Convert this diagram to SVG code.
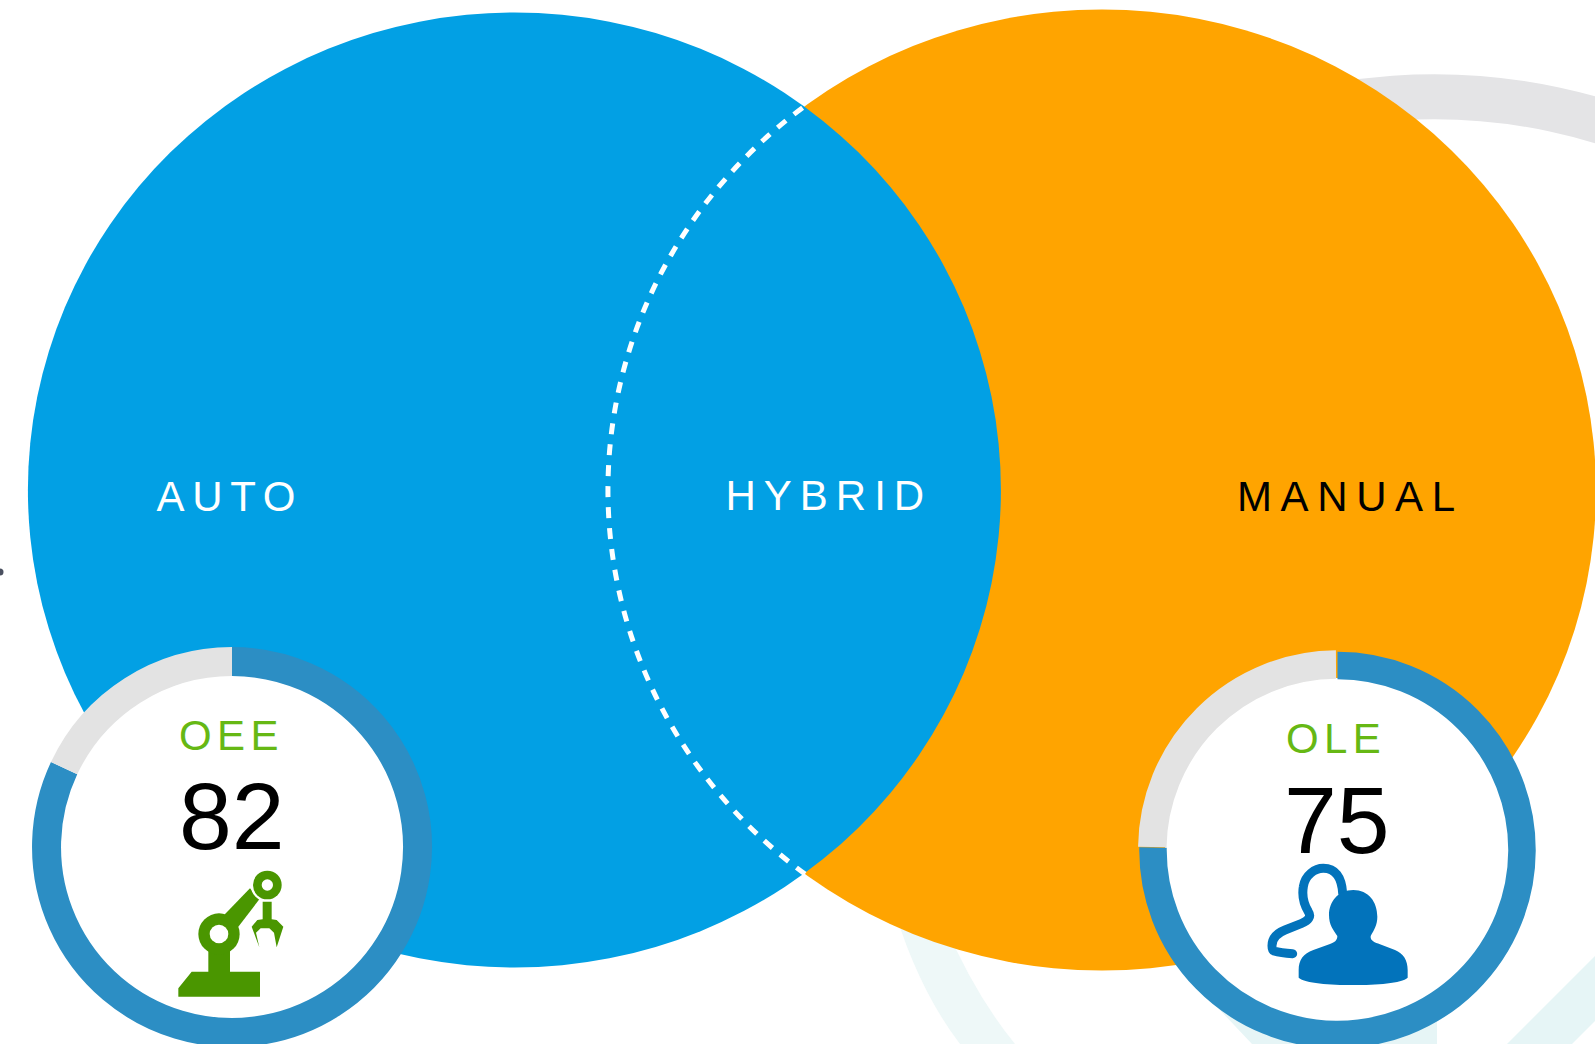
<svg xmlns="http://www.w3.org/2000/svg" width="1595" height="1044" viewBox="0 0 1595 1044">
<style>
text{font-family:"Liberation Sans",Arial,sans-serif}
.lab{font-size:42px}
.kpi{font-size:42px;fill:#66B814}
.num{font-size:95px;fill:#000}
.ringb{fill:none;stroke:#2C8EC4;stroke-width:29}
.ringg{fill:none;stroke:#E3E3E3;stroke-width:29}
.teal{fill:#E6F5F6}
</style>
<rect width="1595" height="1044" fill="#fff"/>
<g id="background">
<circle cx="0" cy="572" r="3.500" fill="#4A5060"/>
<path d="M1100 204A574 574 0 0 1 1700 162" fill="none" stroke="#E4E4E6" stroke-width="45"/>
<path d="M890 895Q915 985 960 1044H1015Q975 995 945 925Z" fill="#EEF8F8"/>
<path class="teal" d="M1218 1008L1252 1044H1437V1000H1240Z"/>
<path class="teal" d="M1507 1044L1595 956V1021L1572 1044Z"/>
</g>
<g id="manual">
<ellipse cx="1102" cy="490" rx="494" ry="480.500" fill="#FFA400"/>
<text class="lab" x="1237" y="511" style="letter-spacing:8.600px" fill="#000">MANUAL</text>
</g>
<g id="auto">
<ellipse cx="514.400" cy="490" rx="486.500" ry="477.500" fill="#02A0E4"/>
<text class="lab" x="156.500" y="511" style="letter-spacing:7.700px" fill="#fff">AUTO</text>
</g>
<g id="hybrid">
<path d="M805 106A494 480.500 0 0 0 805 874" fill="none" stroke="#fff" stroke-width="5" stroke-dasharray="11 10" stroke-dashoffset="-3"/>
<text class="lab" x="725.500" y="510" style="letter-spacing:8px" fill="#fff">HYBRID</text>
</g>
<g id="oee">
<circle cx="232" cy="847" r="172" fill="#fff"/>
<path class="ringb" d="M232 661.500A185.500 185.500 0 1 1 64.100 768.200"/>
<path class="ringg" d="M232 661.500A185.500 185.500 0 0 0 64.100 768.200"/>
<text class="kpi" x="179" y="750" style="letter-spacing:5.400px">OEE</text>
<text class="num" x="179" y="849">82</text>
<g transform="translate(170 860) scale(.33333)" fill="#4A9600">
<path d="M25 385L65 335H115V260H180V335H270V410H25Z"/>
<circle cx="147" cy="222" r="62"/>
<path d="M150 178L240 85L268 118L205 200Z"/>
<circle cx="292" cy="75" r="50" fill="#fff"/>
<circle cx="292" cy="75" r="43"/>
<circle cx="147" cy="222" r="28" fill="#fff"/>
<circle cx="292" cy="75" r="17" fill="#fff"/>
<path d="M278 125H305V178L320 180L340 200L320 262L312 218L298 205H272L258 218L268 262L245 200L262 180L278 178Z"/>
</g>
</g>
<g id="ole">
<circle cx="1337" cy="850" r="172" fill="#fff"/>
<path d="M1337.500 665.500A184.500 184.500 0 1 1 1153 847.500" fill="none" stroke="#2C8EC4" stroke-width="27.500"/>
<path class="ringg" d="M1336 664.500A185 185 0 0 0 1152.300 847" style="stroke-width:28.500"/>
<text class="kpi" x="1286" y="753" style="letter-spacing:5.400px">OLE</text>
<text class="num" x="1284" y="853">75</text>
<g transform="translate(1260 855) scale(.33333)" fill="#0273BB">
<path d="M98 296C80 295 55 292 42 288C36 285 36 280 36 272C36 250 50 235 75 225L125 205C145 197 155 185 145 170C130 145 125 125 130 95C135 60 165 40 190 40C225 40 245 65 248 115" fill="none" stroke="#0273BB" stroke-width="27" stroke-linecap="round" stroke-linejoin="round"/>
<path d="M280 105C325 105 352 140 352 185C352 210 342 225 332 243C330 258 345 262 360 268L405 285C430 295 443 315 443 345V368C425 385 350 390 280 390C210 390 135 385 116 368V345C116 315 130 295 160 285L210 267C225 262 232 255 232 243C220 225 207 210 207 180C207 140 235 105 280 105Z"/>
</g>
</g>
</svg>
